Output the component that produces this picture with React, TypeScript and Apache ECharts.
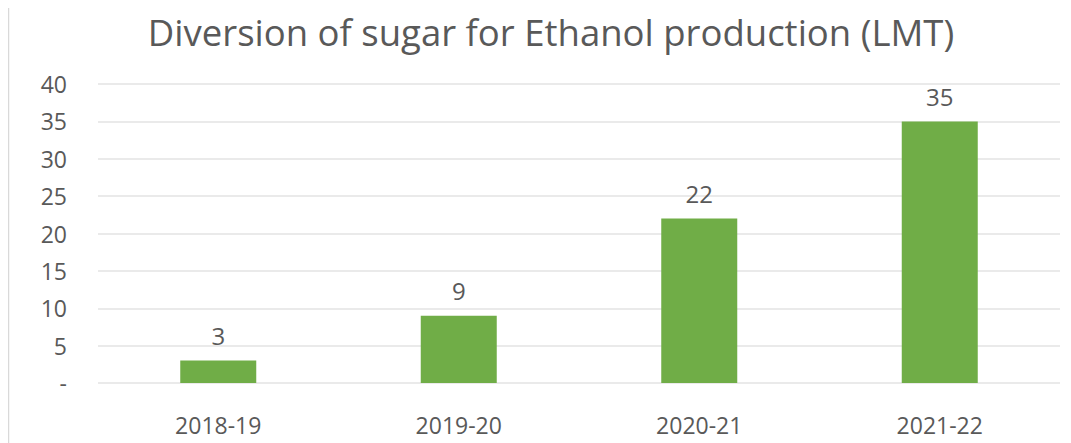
import React, { useEffect, useRef } from "react";
import * as echarts from "echarts";

const categories = ["2018-19", "2019-20", "2020-21", "2021-22"];
const values = [3, 9, 22, 35];
const yTicks = [0, 5, 10, 15, 20, 25, 30, 35, 40];
const titleText = "Diversion of sugar for Ethanol production (LMT)";

export default function App() {
  const ref = useRef<HTMLDivElement>(null);
  useEffect(() => {
    if (!ref.current) return;
    const chart = echarts.init(ref.current, null, { renderer: "svg" });
    const font = "'Open Sans', 'Liberation Sans', sans-serif";
    chart.setOption({
      animation: false,
      backgroundColor: "#ffffff",
      title: {
        text: titleText,
        left: 538,
        textAlign: "center",
        top: 0,
        textStyle: { fontFamily: font, fontSize: 36.5, fontWeight: "normal", color: "#595959" },
      },
      graphic: [
        {
          type: "line",
          shape: { x1: 0.5, y1: 0, x2: 0.5, y2: 443 },
          style: { stroke: "#d9d9d9", lineWidth: 1.5 },
        },
      ],
      grid: { left: 90, right: 11, top: 76, bottom: 60, containLabel: false },
      xAxis: {
        type: "category",
        data: categories,
        axisLine: { show: false },
        axisTick: { show: false },
        axisLabel: { fontFamily: font, fontSize: 23, color: "#595959", margin: 30 },
      },
      yAxis: {
        type: "value",
        min: yTicks[0],
        max: yTicks[yTicks.length - 1],
        interval: 5,
        axisLine: { show: false },
        axisTick: { show: false },
        splitLine: { lineStyle: { color: "#e3e3e3", width: 1.5 } },
        axisLabel: {
          fontFamily: font,
          fontSize: 23,
          color: "#595959",
          margin: 31,
          formatter: (v: number) => (v === 0 ? "-" : String(v)),
        },
      },
      series: [
        {
          type: "bar",
          data: values,
          barWidth: 76,
          itemStyle: { color: "#70AD47" },
          label: {
            show: true,
            position: "top",
            distance: 13,
            fontFamily: font,
            fontSize: 24,
            color: "#595959",
          },
        },
      ],
    });
    return () => chart.dispose();
  }, []);
  return <div ref={ref} style={{ width: 1063, height: 435 }} />;
}
